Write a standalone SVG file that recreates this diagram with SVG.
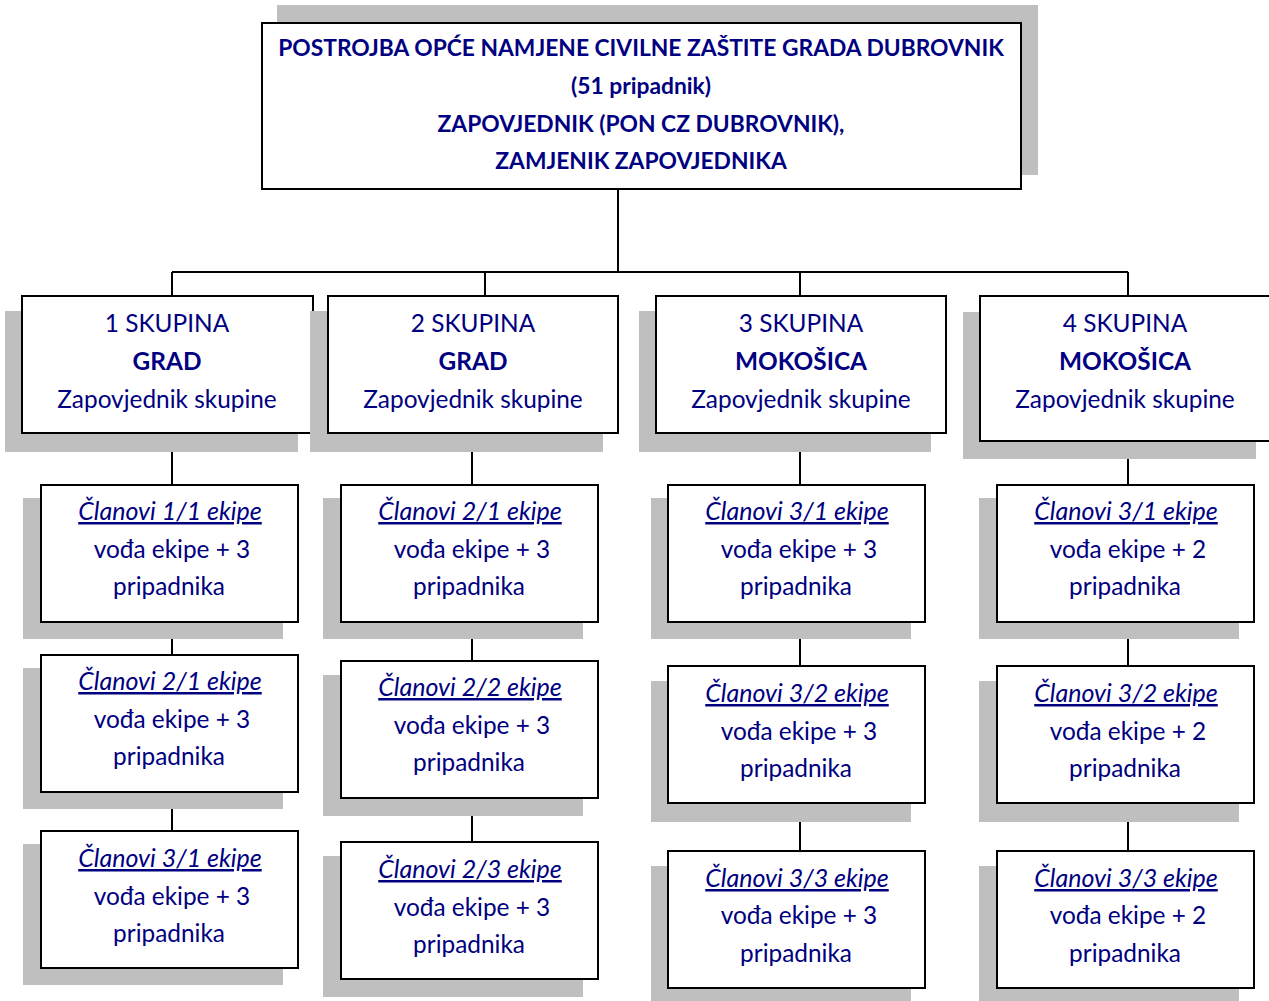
<svg xmlns="http://www.w3.org/2000/svg" width="1269" height="1001" viewBox="0 0 1269 1001">
<style>
.sh{fill:#bfbfbf}
.bx{fill:#fff;stroke:#000;stroke-width:2}
.t{font-family:Lato,"Open Sans","DejaVu Sans",sans-serif;fill:#000080;text-anchor:middle}
.tb{font-size:22.8px;font-weight:bold}
.ts{font-size:24.4px}
.bd{font-weight:bold}
.ti{font-size:25px;font-style:italic;text-decoration:underline}
.cn{fill:none;stroke:#000;stroke-width:2}
</style>
<rect width="1269" height="1001" fill="#fff"/>
<g id="connectors">
<path class="cn" d="M618 189V272M172 272H1128M172 272V296M485 272V296M800 272V296M1128 272V296"/>
<path class="cn" d="M172 433V485M172 622V655M172 792V831"/>
<path class="cn" d="M472 433V485M472 622V661M472 798V842"/>
<path class="cn" d="M800 433V485M800 622V666M800 803V851"/>
<path class="cn" d="M1128 441V485M1128 622V666M1128 803V851"/>
</g>
<g id="top">
<rect class="sh" x="277" y="5" width="761" height="170"/>
<rect class="bx" x="262" y="23" width="759" height="166"/>
<text class="t tb" x="641" y="56">POSTROJBA OPĆE NAMJENE CIVILNE ZAŠTITE GRADA DUBROVNIK</text>
<text class="t tb" x="641" y="94">(51 pripadnik)</text>
<text class="t tb" x="641" y="132">ZAPOVJEDNIK (PON CZ DUBROVNIK),</text>
<text class="t tb" x="641" y="169">ZAMJENIK ZAPOVJEDNIKA</text>
</g>
<g id="skupina1">
<rect class="sh" x="5" y="311" width="293" height="141"/>
<rect class="bx" x="22" y="296" width="291" height="137"/>
<text class="t ts" x="167" y="332">1 SKUPINA</text>
<text class="t ts bd" x="167" y="370">GRAD</text>
<text class="t ts" x="167" y="408">Zapovjednik skupine</text>
</g>
<g id="skupina2">
<rect class="sh" x="310" y="311" width="293" height="141"/>
<rect class="bx" x="328" y="296" width="290" height="137"/>
<text class="t ts" x="473" y="332">2 SKUPINA</text>
<text class="t ts bd" x="473" y="370">GRAD</text>
<text class="t ts" x="473" y="408">Zapovjednik skupine</text>
</g>
<g id="skupina3">
<rect class="sh" x="639" y="311" width="292" height="141"/>
<rect class="bx" x="656" y="296" width="290" height="137"/>
<text class="t ts" x="801" y="332">3 SKUPINA</text>
<text class="t ts bd" x="801" y="370">MOKOŠICA</text>
<text class="t ts" x="801" y="408">Zapovjednik skupine</text>
</g>
<g id="skupina4">
<rect class="sh" x="963" y="312" width="293" height="147"/>
<rect class="bx" x="980" y="296" width="300" height="145"/>
<text class="t ts" x="1125" y="332">4 SKUPINA</text>
<text class="t ts bd" x="1125" y="370">MOKOŠICA</text>
<text class="t ts" x="1125" y="408">Zapovjednik skupine</text>
</g>
<g id="e11">
<rect class="sh" x="23" y="498" width="260" height="141"/>
<rect class="bx" x="41" y="485" width="257" height="137"/>
<text class="t ti" x="170" y="520">Članovi 1/1 ekipe</text>
<text class="t ts" x="172" y="558">vođa ekipe + 3</text>
<text class="t ts" x="169" y="595">pripadnika</text>
</g>
<g id="e21a">
<rect class="sh" x="23" y="668" width="260" height="141"/>
<rect class="bx" x="41" y="655" width="257" height="137"/>
<text class="t ti" x="170" y="690">Članovi 2/1 ekipe</text>
<text class="t ts" x="172" y="728">vođa ekipe + 3</text>
<text class="t ts" x="169" y="765">pripadnika</text>
</g>
<g id="e31a">
<rect class="sh" x="23" y="844" width="260" height="141"/>
<rect class="bx" x="41" y="831" width="257" height="137"/>
<text class="t ti" x="170" y="867">Članovi 3/1 ekipe</text>
<text class="t ts" x="172" y="905">vođa ekipe + 3</text>
<text class="t ts" x="169" y="942">pripadnika</text>
</g>
<g id="e21">
<rect class="sh" x="323" y="498" width="260" height="141"/>
<rect class="bx" x="341" y="485" width="257" height="137"/>
<text class="t ti" x="470" y="520">Članovi 2/1 ekipe</text>
<text class="t ts" x="472" y="558">vođa ekipe + 3</text>
<text class="t ts" x="469" y="595">pripadnika</text>
</g>
<g id="e22">
<rect class="sh" x="323" y="675" width="260" height="141"/>
<rect class="bx" x="341" y="661" width="257" height="137"/>
<text class="t ti" x="470" y="696">Članovi 2/2 ekipe</text>
<text class="t ts" x="472" y="734">vođa ekipe + 3</text>
<text class="t ts" x="469" y="771">pripadnika</text>
</g>
<g id="e23">
<rect class="sh" x="323" y="856" width="260" height="141"/>
<rect class="bx" x="341" y="842" width="257" height="137"/>
<text class="t ti" x="470" y="878">Članovi 2/3 ekipe</text>
<text class="t ts" x="472" y="916">vođa ekipe + 3</text>
<text class="t ts" x="469" y="953">pripadnika</text>
</g>
<g id="e31">
<rect class="sh" x="651" y="498" width="260" height="141"/>
<rect class="bx" x="668" y="485" width="257" height="137"/>
<text class="t ti" x="797" y="520">Članovi 3/1 ekipe</text>
<text class="t ts" x="799" y="558">vođa ekipe + 3</text>
<text class="t ts" x="796" y="595">pripadnika</text>
</g>
<g id="e32">
<rect class="sh" x="651" y="681" width="260" height="141"/>
<rect class="bx" x="668" y="666" width="257" height="137"/>
<text class="t ti" x="797" y="702">Članovi 3/2 ekipe</text>
<text class="t ts" x="799" y="740">vođa ekipe + 3</text>
<text class="t ts" x="796" y="777">pripadnika</text>
</g>
<g id="e33">
<rect class="sh" x="651" y="866" width="260" height="141"/>
<rect class="bx" x="668" y="851" width="257" height="137"/>
<text class="t ti" x="797" y="887">Članovi 3/3 ekipe</text>
<text class="t ts" x="799" y="924">vođa ekipe + 3</text>
<text class="t ts" x="796" y="962">pripadnika</text>
</g>
<g id="e41">
<rect class="sh" x="979" y="498" width="260" height="141"/>
<rect class="bx" x="997" y="485" width="257" height="137"/>
<text class="t ti" x="1126" y="520">Članovi 3/1 ekipe</text>
<text class="t ts" x="1128" y="558">vođa ekipe + 2</text>
<text class="t ts" x="1125" y="595">pripadnika</text>
</g>
<g id="e42">
<rect class="sh" x="979" y="681" width="260" height="141"/>
<rect class="bx" x="997" y="666" width="257" height="137"/>
<text class="t ti" x="1126" y="702">Članovi 3/2 ekipe</text>
<text class="t ts" x="1128" y="740">vođa ekipe + 2</text>
<text class="t ts" x="1125" y="777">pripadnika</text>
</g>
<g id="e43">
<rect class="sh" x="979" y="866" width="260" height="141"/>
<rect class="bx" x="997" y="851" width="257" height="137"/>
<text class="t ti" x="1126" y="887">Članovi 3/3 ekipe</text>
<text class="t ts" x="1128" y="924">vođa ekipe + 2</text>
<text class="t ts" x="1125" y="962">pripadnika</text>
</g>
</svg>
